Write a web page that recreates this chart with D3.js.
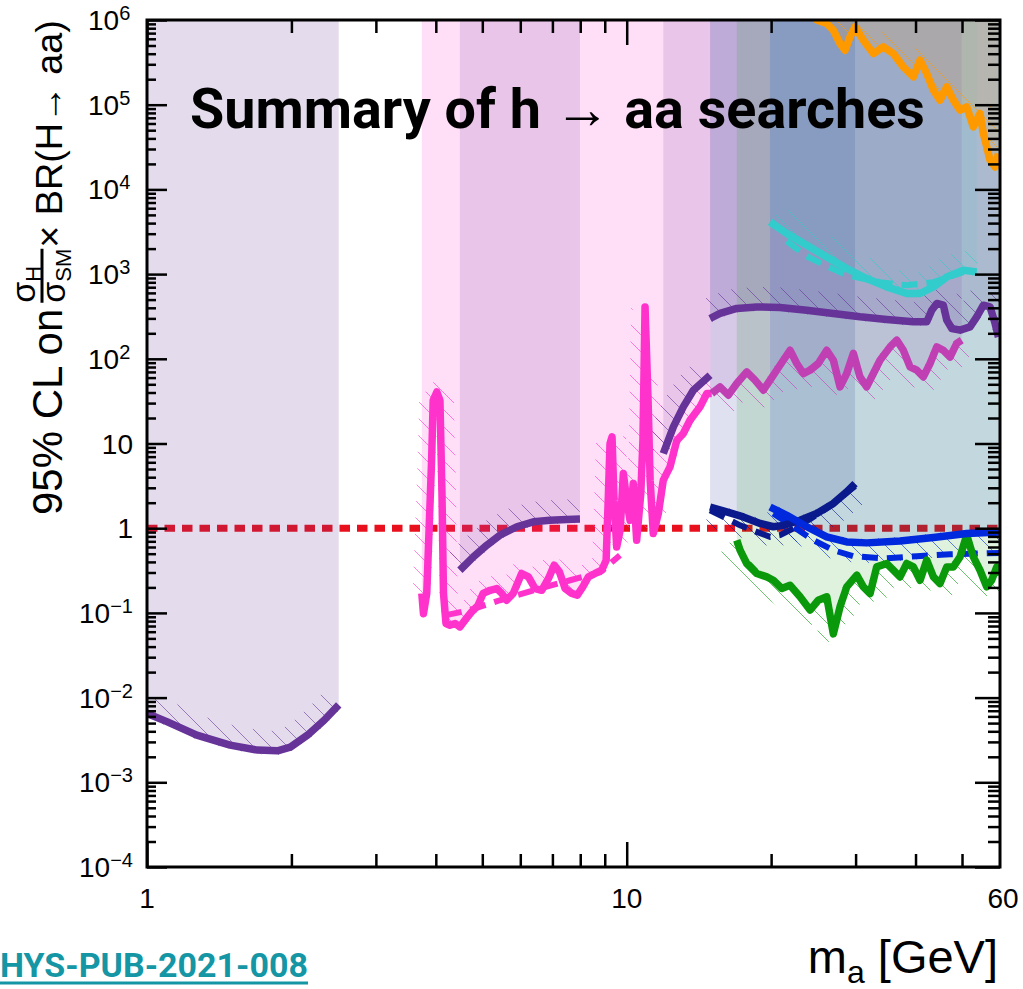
<!DOCTYPE html>
<html>
<head>
<meta charset="utf-8">
<script src="https://cdn.jsdelivr.net/npm/d3@7"></script>
<style>
  html, body { margin: 0; padding: 0; background: #fff; }
  svg { display: block; }
  .lbl { font-family: "Liberation Sans", Arial, Helvetica, sans-serif; fill: #000; }
</style>
</head>
<body>
<svg id="chart" width="1023" height="989"></svg>
<script>
// ---------------- axis ranges and labels ----------------
const massRange = [1, 60];
const limitRange = [1e-4, 1e6];
const xTickLabels = [1, 10, 60];
const yTickExponents = [-4, -3, -2, -1, 0, 1, 2, 3, 4, 5, 6];

// ---------------- limit curves: mass [GeV] and 95% CL limit ----------------
const purple1Mass = [1.0, 1.10, 1.27, 1.49, 1.70, 1.87, 1.99, 2.16, 2.34, 2.51];
const purple1Obs  = [6.5e-3, 5.2e-3, 3.6e-3, 2.75e-3, 2.4e-3, 2.35e-3, 2.6e-3, 3.6e-3, 5.4e-3, 8.2e-3];

const pinkMass = [3.74,3.77,3.83,3.92,3.95,4.02,4.08,4.12,4.15,4.20,4.28,4.39,4.49,4.60,4.75,4.90,5.02,5.19,5.36,5.49,
  5.62,5.80,6.04,6.24,6.44,6.65,6.87,7.06,7.24,7.44,7.68,7.89,8.10,8.32,8.59,8.87,9.06,9.16,9.23,9.32,
  9.41,9.53,9.69,9.84,10.0,10.16,10.32,10.49,10.70,10.81,10.92,11.08,11.19,11.36,11.64,11.92,12.31,12.72,13.12,13.55,
  14.22,14.69,15.04];
const pinkObs = [0.170,0.098,0.170,6.35,32.4,40.6,32.4,2.57,0.170,0.075,0.0716,0.075,0.0684,0.082,0.103,0.123,0.170,0.185,0.194,0.170,
  0.141,0.170,0.292,0.266,0.194,0.185,0.255,0.366,0.305,0.194,0.170,0.162,0.203,0.266,0.292,0.319,0.419,2.57,10,12,
  2.14,0.60,0.947,4.42,2.14,1.24,3.37,0.72,2.57,10.9,410,32.4,3.69,0.866,1.49,3.69,5.29,10.9,13.1,18.8,
  27.1,38.9,38.9];
const pinkExpMass = [4.20, 4.71, 5.44, 6.60, 7.62, 8.80, 9.68];
const pinkExp     = [0.094, 0.108, 0.141, 0.194, 0.243, 0.302, 0.48];

const purple2Mass = [4.49, 4.79, 5.11, 5.44, 5.90, 6.39, 6.92, 7.50, 7.99];
const purple2Obs  = [0.319, 0.458, 0.630, 0.827, 1.04, 1.19, 1.24, 1.27, 1.28];

const purple3Mass = [11.92, 12.51, 13.12, 13.77, 14.92];
const purple3Obs  = [7.62, 15.7, 27.1, 42.6, 64.0];

const purple4Mass = [14.92,15.65,16.96,18.67,20.87,23.73,26.96,30.64,34.84,39.59,42.21,43.24,44.30,45.72,46.47,47.61,49.53,51.96,53.66,55.40,57.20,58.6,59.55];
const purple4Obs  = [299,343,393,410,403,375,343,313,291,273,273,375,450,429,286,228,218,238,313,429,410,261,181];

const magentaMass = [15.04,15.65,16.29,16.96,17.79,18.51,19.27,19.90,20.54,21.21,21.90,22.62,23.35,24.11,25.08,26.12,26.96,27.84,28.75,29.68,
  30.64,31.64,32.67,33.73,35.39,36.55,37.73,38.96,40.23,41.53,42.89,44.30,45.72,47.21,48.75,49.93];
const magentaObs  = [38.9,46.6,37.2,51.1,70.0,55.9,42.6,55.9,73.3,96.2,126,88.0,67.0,73.3,88.0,126,96.2,46.6,67.0,116,
  61.1,46.6,67.0,96.2,138,166,126,80.2,73.3,61.1,88.0,138,126,105,152,166];

const cyanMass = [19.90,21.56,23.73,26.12,28.75,31.64,34.84,38.35,40.88,43.59,46.47,50.31,53.66];
const cyanObs  = [4130,3015,2193,1596,1164,887,706,590,590,706,927,1112,1062];
const cyanExpMass = [21.56,23.73,26.12,28.75,33.73,38.35,43.59,50.31];
const cyanExp     = [2445,1626,1240,970,802,739,802,1052];

const orangeMass = [24.3,24.89,26.12,26.96,27.84,28.52,29.21,29.92,31.14,32.67,34.28,35.96,37.73,39.59,40.88,42.21,43.59,44.98,46.47,47.97,
  49.53,51.14,52.79,54.52,55.40,56.30,57.20,58.60,59.55];
const orangeObs  = [1.3e6,1e6,9.09e5,7.57e5,5.28e5,4.40e5,6.31e5,8.28e5,5.77e5,4.02e5,4.81e5,4.02e5,2.79e5,2.13e5,3.35e5,2.33e5,1.48e5,1.13e5,1.62e5,1.13e5,
  8.61e4,9.42e4,5.47e4,7.87e4,4.57e4,3.18e4,2.21e4,1.84e4,2.65e4];

const navyMass = [14.92,16.16,17.50,18.97,20.21,21.21,22.98,24.89,26.96,28.75,29.92];
const navyObs  = [1.78,1.56,1.36,1.14,1.04,1.08,1.24,1.49,1.96,2.68,3.37];
const navyExpMass = [14.92,17.23,18.67,19.90,20.87,21.90,24.11,26.54,29.92];
const navyExp     = [1.63,1.08,0.904,0.789,0.827,0.947,1.28,1.82,3.13];

const blueMass = [19.90,21.56,23.73,26.12,28.75,31.64,37.13,43.59,51.14,60];
const blueObs  = [1.78,1.42,1.04,0.789,0.689,0.671,0.708,0.777,0.866,0.904];
const blueExpMass = [20.21,22.25,24.50,26.96,29.68,34.28,40.23,47.21,60];
const blueExp     = [1.49,1.04,0.722,0.55,0.467,0.439,0.467,0.493,0.511];

const greenMass = [16.96,17.23,17.79,18.67,19.59,20.21,21.05,21.90,22.98,24.11,25.08,26.12,26.96,27.84,28.75,30.17,31.14,32.16,33.20,34.84,
  35.96,37.13,38.35,39.59,40.88,42.21,43.59,44.98,46.47,47.97,49.53,51.14,52.79,54.52,56.30,57.64,59.08,60];
const greenObs  = [0.72,0.55,0.383,0.292,0.266,0.243,0.194,0.212,0.155,0.108,0.141,0.155,0.0565,0.118,0.203,0.279,0.203,0.169,0.349,0.383,
  0.319,0.266,0.383,0.349,0.243,0.419,0.266,0.222,0.349,0.349,0.458,0.827,0.458,0.319,0.203,0.243,0.349,0.28];
const greenExpMass = [16.96, 17.65, 18.60];
const greenExp     = [0.689, 0.419, 0.31];

// ---------------- layout ----------------
const plot = { left: 147, right: 1000, top: 20, bottom: 867 };
const x = d3.scaleLog().domain(massRange).range([plot.left, plot.right]);
const y = d3.scaleLog().domain(limitRange).range([plot.bottom, plot.top]);

const svg = d3.select('#chart');
const defs = svg.append('defs');
defs.append('clipPath').attr('id', 'plotClip').append('rect')
  .attr('x', plot.left).attr('y', plot.top)
  .attr('width', plot.right - plot.left).attr('height', plot.bottom - plot.top);

const zip = (m, v) => m.map((d, i) => [d, v[i]]);

// analyses: observed curve, excluded-region fill above it, hatch side (-1 above, +1 below)
const analyses = [
  { id: 'p1', pts: zip(purple1Mass, purple1Obs), color: '#663399', fill: '#6a3d9a', alpha: 0.18, side: -1, hw: 20 },
  { id: 'pk', pts: zip(pinkMass, pinkObs), color: '#ff33cc', fill: '#ff33cc', alpha: 0.16, side: -1, hw: 14,
    exp: zip(pinkExpMass, pinkExp) },
  { id: 'p2', pts: zip(purple2Mass, purple2Obs), color: '#663399', fill: '#6a3d9a', alpha: 0.15, side: -1, hw: 20 },
  { id: 'p3', pts: zip(purple3Mass, purple3Obs), color: '#663399', fill: '#6a3d9a', alpha: 0.15, side: -1, hw: 20 },
  { id: 'p4', pts: zip(purple4Mass, purple4Obs), color: '#663399', fill: '#6a3d9a', alpha: 0.2, side: -1, hw: 20 },
  { id: 'mg', pts: zip(magentaMass, magentaObs), color: '#c040b4', fill: '#bb44bb', alpha: 0.15, side: 1, hw: 18 },
  { id: 'nv', pts: zip(navyMass, navyObs), color: '#0a1a8c', fill: '#0a1a8c', alpha: 0.13, side: 1, hw: 20,
    exp: zip(navyExpMass, navyExp) },
  { id: 'gr', pts: zip(greenMass, greenObs), color: '#0a990a', fill: '#009900', alpha: 0.13, side: 1, hw: 18,
    exp: zip(greenExpMass, greenExp) },
  { id: 'bl', pts: zip(blueMass, blueObs), color: '#0028dd', fill: '#0022dd', alpha: 0.12, side: 1, hw: 20,
    exp: zip(blueExpMass, blueExp) },
  { id: 'cy', pts: zip(cyanMass, cyanObs), color: '#33cccc', fill: '#33cccc', alpha: 0.09, side: -1, hw: 20,
    exp: zip(cyanExpMass, cyanExp) },
  { id: 'or', pts: zip(orangeMass, orangeObs), color: '#ff9900', fill: '#ff9900', alpha: 0.15, side: -1, hw: 16 }
];

// diagonal hatch patterns
analyses.forEach(a => {
  const s = 17;
  const p = defs.append('pattern').attr('id', 'hatch-' + a.id)
    .attr('patternUnits', 'userSpaceOnUse').attr('width', s).attr('height', s);
  p.append('path')
    .attr('d', `M-1,-1L${s + 1},${s + 1}M-1,${s - 1}L1,${s + 1}M${s - 1},-1L${s + 1},1`)
    .attr('stroke', a.color).attr('stroke-width', 1).attr('stroke-opacity', 0.6);
});

const plotG = svg.append('g').attr('clip-path', 'url(#plotClip)');

// SM reference line at 1
plotG.append('line')
  .attr('x1', x(massRange[0])).attr('x2', x(massRange[1]))
  .attr('y1', y(1)).attr('y2', y(1))
  .attr('stroke', '#e8101c').attr('stroke-width', 7)
  .attr('stroke-dasharray', '10.5,7');

// excluded regions (from the limit up to the top of the frame)
const area = d3.area().x(d => x(d[0])).y0(y(limitRange[1])).y1(d => y(d[1]));
analyses.forEach(a => {
  plotG.append('path').attr('d', area(a.pts))
    .attr('fill', a.fill).attr('fill-opacity', a.alpha);
});

// hatched strip along each observed limit
function band(pts, side, outer, inner) {
  const n = pts.length, a = [], b = [];
  for (let i = 0; i < n; i++) {
    const p0 = pts[Math.max(0, i - 1)], p1 = pts[Math.min(n - 1, i + 1)];
    let tx = p1[0] - p0[0], ty = p1[1] - p0[1];
    const L = Math.hypot(tx, ty) || 1; tx /= L; ty /= L;
    const nx = -ty, ny = tx;
    a.push([pts[i][0] - side * inner * nx, pts[i][1] - side * inner * ny]);
    b.push([pts[i][0] + side * outer * nx, pts[i][1] + side * outer * ny]);
  }
  b.reverse();
  return 'M' + a.concat(b).map(p => p[0].toFixed(1) + ',' + p[1].toFixed(1)).join('L') + 'Z';
}
analyses.forEach(a => {
  const px = a.pts.map(d => [x(d[0]), y(d[1])]);
  plotG.append('path').attr('d', band(px, a.side, a.hw, 4))
    .attr('fill', `url(#hatch-${a.id})`);
});

const line = d3.line().x(d => x(d[0])).y(d => y(d[1]));

// expected limits (dashed)
analyses.filter(a => a.exp).forEach(a => {
  plotG.append('path').attr('d', line(a.exp))
    .attr('fill', 'none').attr('stroke', a.color).attr('stroke-width', 6)
    .attr('stroke-dasharray', '16,9');
});

// observed limits
analyses.forEach(a => {
  plotG.append('path').attr('d', line(a.pts))
    .attr('fill', 'none').attr('stroke', a.color).attr('stroke-width', 7.5)
    .attr('stroke-linejoin', 'round').attr('stroke-linecap', 'butt');
});

// ---------------- axes ----------------
const yMajor = yTickExponents.map(e => Math.pow(10, e));
const yMinor = [];
yTickExponents.slice(0, -1).forEach(e => { for (let k = 2; k <= 9; k++) yMinor.push(k * Math.pow(10, e)); });
const xMajor = [1, 10];
const xMinor = [2, 3, 4, 5, 6, 7, 8, 9, 20, 30, 40, 50];

function tickAxis(gen, tr, values, size) {
  const g = svg.append('g').attr('transform', tr)
    .call(gen.tickValues(values).tickSize(size).tickFormat(''));
  g.select('.domain').remove();
  g.selectAll('line').attr('stroke', '#000').attr('stroke-width', 2.5);
  return g;
}
tickAxis(d3.axisLeft(y), `translate(${plot.left},0)`, yMajor, -20);
tickAxis(d3.axisLeft(y), `translate(${plot.left},0)`, yMinor, -9);
tickAxis(d3.axisRight(y), `translate(${plot.right},0)`, yMajor, -25);
tickAxis(d3.axisRight(y), `translate(${plot.right},0)`, yMinor, -12);
tickAxis(d3.axisBottom(x), `translate(0,${plot.bottom})`, xMajor, -25);
tickAxis(d3.axisBottom(x), `translate(0,${plot.bottom})`, xMinor, -13);
tickAxis(d3.axisTop(x), `translate(0,${plot.top})`, xMajor, -25);
tickAxis(d3.axisTop(x), `translate(0,${plot.top})`, xMinor, -13);

svg.append('rect')
  .attr('x', plot.left).attr('y', plot.top)
  .attr('width', plot.right - plot.left).attr('height', plot.bottom - plot.top)
  .attr('fill', 'none').attr('stroke', '#000').attr('stroke-width', 3);

// y tick labels
yTickExponents.forEach(e => {
  const v = Math.pow(10, e);
  const yy = y(v) + 10;
  if (e === 0 || e === 1) {
    svg.append('text').attr('class', 'lbl').attr('x', 133).attr('y', yy)
      .attr('text-anchor', 'end').style('font-size', '28px').text(e === 0 ? '1' : '10');
  } else {
    const t = svg.append('text').attr('class', 'lbl')
      .attr('x', e < 0 ? 79 : 88).attr('y', yy).style('font-size', '28px');
    t.append('tspan').text('10');
    t.append('tspan').attr('dy', -10).style('font-size', '20px')
      .text(e < 0 ? '\u2212' + Math.abs(e) : String(e));
  }
});

// x tick labels
xTickLabels.forEach(v => {
  svg.append('text').attr('class', 'lbl')
    .attr('x', v === 60 ? x(v) + 3 : x(v)).attr('y', 908)
    .attr('text-anchor', 'middle').style('font-size', '28px').text(String(v));
});

// x axis title
const xt = svg.append('text').attr('class', 'lbl').attr('x', 998).attr('y', 973)
  .attr('text-anchor', 'end').style('font-size', '47px');
xt.append('tspan').text('m');
xt.append('tspan').attr('dy', 10).style('font-size', '32px').text('a');
xt.append('tspan').attr('dy', -10).text(' [GeV]');

// y axis title (rotated): runs upward from y=515 to y=20
const yt = svg.append('g').attr('transform', 'translate(62,515) rotate(-90)');
function fitText(sel, target, maxSize) {
  const w = sel.node().getComputedTextLength();
  const fs = Math.min(maxSize, maxSize * target / w);
  sel.style('font-size', fs.toFixed(2) + 'px');
  return sel.node().getComputedTextLength();
}
const t1 = yt.append('text').attr('class', 'lbl').attr('x', 0).attr('y', 0)
  .style('font-size', '42px').text('95% CL on');
const w1 = fitText(t1, 222, 42);
const fx = w1 + 6;
const num = yt.append('text').attr('class', 'lbl').attr('x', fx).attr('y', -27).style('font-size', '34px');
num.append('tspan').text('\u03c3');
num.append('tspan').attr('dy', 6).style('font-size', '22px').text('H');
const den = yt.append('text').attr('class', 'lbl').attr('x', fx).attr('y', 3).style('font-size', '34px');
den.append('tspan').text('\u03c3');
den.append('tspan').attr('dy', 6).style('font-size', '22px').text('SM');
const fw = Math.max(num.node().getComputedTextLength(), den.node().getComputedTextLength());
yt.append('line').attr('x1', fx).attr('x2', fx + fw).attr('y1', -20).attr('y2', -20)
  .attr('stroke', '#000').attr('stroke-width', 3);
const t2 = yt.append('text').attr('class', 'lbl').attr('x', fx + fw + 1).attr('y', 0)
  .style('font-size', '42px').text('\u00d7 BR(H\u2192 aa)');
fitText(t2, 495 - (fx + fw + 1), 42);

// title
const title = svg.append('text').attr('x', 190).attr('y', 128)
  .style('font-family', 'Roboto, "Noto Sans", sans-serif').style('font-weight', 700)
  .style('font-size', '50px').attr('fill', '#000')
  .text('Summary of h \u2192 aa searches');
const tw = title.node().getComputedTextLength();
title.style('font-size', (50 * 735 / tw).toFixed(2) + 'px');

// reference note
const ref = svg.append('text').attr('x', 0).attr('y', 977)
  .style('font-family', 'Roboto, "Noto Sans", sans-serif').style('font-weight', 700)
  .style('font-size', '34px').attr('fill', '#1596a5')
  .text('HYS-PUB-2021-008');
const rw = ref.node().getComputedTextLength();
svg.append('line').attr('x1', 0).attr('x2', rw).attr('y1', 983).attr('y2', 983)
  .attr('stroke', '#1596a5').attr('stroke-width', 3);
</script>
</body>
</html>
